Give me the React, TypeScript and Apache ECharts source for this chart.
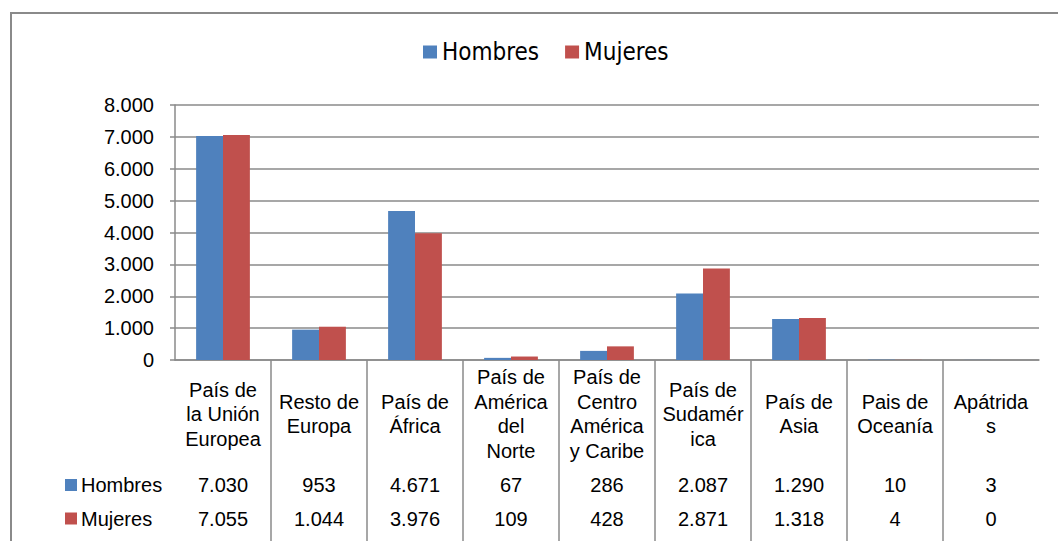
import React, { useEffect, useRef } from "react";
import * as echarts from "echarts";

const categories = [
  "País de\nla Unión\nEuropea",
  "Resto de\nEuropa",
  "País de\nÁfrica",
  "País de\nAmérica\ndel\nNorte",
  "País de\nCentro\nAmérica\ny Caribe",
  "País de\nSudamér\nica",
  "País de\nAsia",
  "Pais de\nOceanía",
  "Apátrida\ns",
];
const hombres = [7030, 953, 4671, 67, 286, 2087, 1290, 10, 3];
const mujeres = [7055, 1044, 3976, 109, 428, 2871, 1318, 4, 0];
const seriesNames = ["Hombres", "Mujeres"];
const seriesColors = ["#4F81BD", "#C0504D"];
const yTicks = { min: 0, max: 8000, interval: 1000 };

const fmt = (n: number) => String(n).replace(/\B(?=(\d{3})+(?!\d))/g, ".");

const GRAY = "#8a8a8a";
const FONT = "'Liberation Sans', Arial, Helvetica, sans-serif";

export default function App() {
  const ref = useRef<HTMLDivElement>(null);
  useEffect(() => {
    if (!ref.current) return;
    const chart = echarts.init(ref.current, undefined, { renderer: "svg" });
    const sepValues = categories.slice(1).map((_, i) => i + 1);
    chart.setOption({
      animation: false,
      backgroundColor: "#ffffff",
      textStyle: { fontFamily: FONT },
      grid: { left: 175, right: 19, top: 105, bottom: 181, containLabel: false },
      legend: {
        data: seriesNames,
        left: 418,
        top: 35,
        itemWidth: 14,
        itemHeight: 13,
        itemGap: 26,
        icon: "rect",
        textStyle: {
          fontFamily: "'DejaVu Sans Condensed', 'Open Sans', sans-serif",
          fontSize: 24,
          color: "#000",
        },
      },
      xAxis: [
        {
          type: "category",
          data: categories,
          gridIndex: 0,
          position: "bottom",
          axisLine: { show: true, lineStyle: { color: GRAY, width: 1.5 } },
          axisTick: { show: false },
          axisLabel: {
            interval: 0,
            margin: 54,
            verticalAlign: "middle",
            align: "center",
            fontSize: 20,
            lineHeight: 24.5,
            color: "#000",
            fontFamily: FONT,
          },
        },
        {
          type: "category",
          data: hombres.map(fmt),
          gridIndex: 0,
          position: "bottom",
          axisLine: { show: false },
          axisTick: { show: false },
          splitLine: { show: false },
          axisLabel: {
            interval: 0,
            margin: 125,
            verticalAlign: "middle",
            fontSize: 20,
            color: "#000",
            fontFamily: FONT,
          },
        },
        {
          type: "category",
          data: mujeres.map(fmt),
          gridIndex: 0,
          position: "bottom",
          axisLine: { show: false },
          axisTick: { show: false },
          splitLine: { show: false },
          axisLabel: {
            interval: 0,
            margin: 158.5,
            verticalAlign: "middle",
            fontSize: 20,
            color: "#000",
            fontFamily: FONT,
          },
        },
        {
          type: "value",
          min: 0,
          max: categories.length,
          interval: 1,
          gridIndex: 0,
          position: "bottom",
          axisLine: { show: false },
          axisLabel: { show: false },
          splitLine: { show: false },
          axisTick: {
            show: true,
            inside: false,
            length: 185,
            customValues: sepValues,
            lineStyle: { color: GRAY, width: 1.5 },
          },
        },
      ],
      yAxis: {
        type: "value",
        min: yTicks.min,
        max: yTicks.max,
        interval: yTicks.interval,
        axisLine: { show: true, onZero: false, lineStyle: { color: GRAY, width: 1.5 } },
        axisTick: { show: true, length: 5, lineStyle: { color: GRAY, width: 1.5 } },
        splitLine: { show: true, lineStyle: { color: GRAY, width: 1.5 } },
        axisLabel: {
          margin: 21,
          fontSize: 20,
          color: "#000",
          fontFamily: FONT,
          formatter: (v: number) => fmt(v),
        },
      },
      series: [
        {
          name: seriesNames[0],
          type: "bar",
          xAxisIndex: 0,
          data: hombres,
          itemStyle: { color: seriesColors[0] },
          barGap: "0%",
          barCategoryGap: "44%",
        },
        {
          name: seriesNames[1],
          type: "bar",
          xAxisIndex: 0,
          data: mujeres,
          itemStyle: { color: seriesColors[1] },
          barGap: "0%",
          barCategoryGap: "44%",
        },
      ],
      graphic: [
        {
          type: "rect",
          z: -1,
          shape: { x: 11, y: 13, width: 1200, height: 700 },
          style: { fill: "none", stroke: GRAY, lineWidth: 2 },
        },
        {
          type: "rect",
          shape: { x: 65, y: 479, width: 12, height: 12 },
          style: { fill: seriesColors[0] },
        },
        {
          type: "text",
          x: 81,
          y: 485,
          style: {
            text: seriesNames[0],
            fontSize: 20,
            fontFamily: FONT,
            fill: "#000",
            verticalAlign: "middle",
          },
        },
        {
          type: "rect",
          shape: { x: 65, y: 512.5, width: 12, height: 12 },
          style: { fill: seriesColors[1] },
        },
        {
          type: "text",
          x: 81,
          y: 518.5,
          style: {
            text: seriesNames[1],
            fontSize: 20,
            fontFamily: FONT,
            fill: "#000",
            verticalAlign: "middle",
          },
        },
      ],
    });
    return () => chart.dispose();
  }, []);
  return (
    <div
      ref={ref}
      style={{ position: "fixed", left: 0, top: 0, width: 1058, height: 541 }}
    />
  );
}
